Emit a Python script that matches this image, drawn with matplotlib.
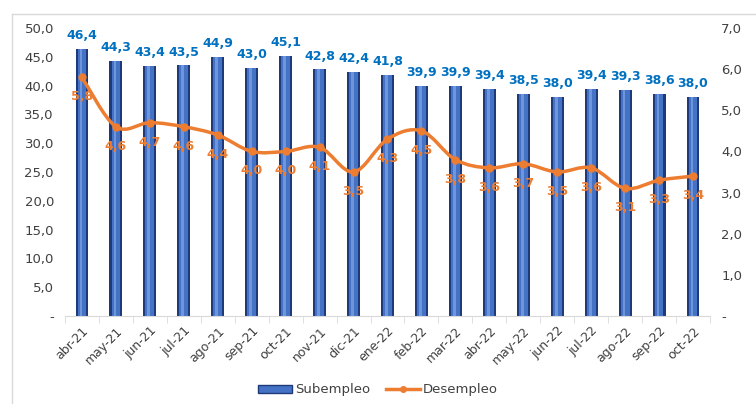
import numpy as np
import matplotlib.pyplot as plt
from matplotlib.path import Path
from matplotlib.patches import PathPatch
from matplotlib.lines import Line2D

plt.rcParams['font.family'] = ['DejaVu Sans']

meses = ['abr-21', 'may-21', 'jun-21', 'jul-21', 'ago-21', 'sep-21', 'oct-21', 'nov-21',
         'dic-21', 'ene-22', 'feb-22', 'mar-22', 'abr-22', 'may-22', 'jun-22', 'jul-22',
         'ago-22', 'sep-22', 'oct-22']
subempleo = [46.4, 44.3, 43.4, 43.5, 44.9, 43.0, 45.1, 42.8, 42.4, 41.8, 39.9, 39.9,
             39.4, 38.5, 38.0, 39.4, 39.3, 38.6, 38.0]
desempleo = [5.8, 4.6, 4.7, 4.6, 4.4, 4.0, 4.0, 4.1, 3.5, 4.3, 4.5, 3.8, 3.6, 3.7,
             3.5, 3.6, 3.1, 3.3, 3.4]

azul = '#4472C4'
naranja = '#ED7D31'
gris_txt = '#404040'


def fmt(v):
    return f'{v:.1f}'.replace('.', ',')


def smooth_path(xs, ys, t=1 / 6):
    # excel-style smoothed line as bezier segments (catmull-rom)
    pts = np.column_stack([xs, ys])
    verts = [pts[0]]
    codes = [Path.MOVETO]
    n = len(pts)
    for i in range(n - 1):
        p0 = pts[max(i - 1, 0)]
        p1 = pts[i]
        p2 = pts[i + 1]
        p3 = pts[min(i + 2, n - 1)]
        c1 = p1 + (p2 - p0) * t
        c2 = p2 - (p3 - p1) * t
        verts += [c1, c2, p2]
        codes += [Path.CURVE4] * 3
    return Path(verts, codes)


fig = plt.figure(figsize=(7.56, 4.04), dpi=100)
ax = fig.add_axes([65 / 756, 88 / 404, 645 / 756, 288 / 404])
x = np.arange(len(meses))

# bars with a little shading
ax.bar(x, subempleo, width=0.38, color='#1F3A7A', zorder=2)
ax.bar(x, subempleo, width=0.26, color=azul, zorder=2)
ax.bar(x - 0.03, subempleo, width=0.08, color='#6F95DC', zorder=2)
for xi, v in zip(x, subempleo):
    ax.text(xi, v + 1.2, fmt(v), ha='center', va='bottom', color='#0070C0',
            fontsize=9, fontweight='bold')

ax.set_ylim(0, 50)
ax.set_xlim(-0.5, len(meses) - 0.5)
ax.set_yticks(np.arange(0, 51, 5))
ax.set_yticklabels(['-'] + [fmt(v) for v in np.arange(5, 51, 5)])
ax.set_xticks(x)
ax.set_xticklabels(meses, rotation=45, ha='right', rotation_mode='anchor', fontsize=9,
                   color=gris_txt)
ax.set_xticks(np.arange(-0.5, len(meses), 1), minor=True)
ax.tick_params(axis='x', which='major', length=0, pad=6)
ax.tick_params(axis='x', which='minor', length=5, color='#D9D9D9')
ax.tick_params(axis='y', length=0, labelsize=9.5, pad=8, labelcolor=gris_txt)
for s in ['top', 'right', 'left']:
    ax.spines[s].set_visible(False)
ax.spines['bottom'].set_color('#D9D9D9')

ax2 = ax.twinx()
ax2.set_ylim(0, 7)
ax2.set_yticks(np.arange(0, 8, 1))
ax2.set_yticklabels(['-'] + [fmt(v) for v in np.arange(1, 8, 1)])
ax2.tick_params(axis='y', length=0, labelsize=9.5, pad=8, labelcolor=gris_txt)
for s in ['top', 'right', 'left', 'bottom']:
    ax2.spines[s].set_visible(False)

ax2.add_patch(PathPatch(smooth_path(x, desempleo), facecolor='none', edgecolor=naranja,
                        lw=2.5, zorder=3))
ax2.plot(x, desempleo, 'o', color=naranja, ms=5, zorder=4)
for xi, v in zip(x, desempleo):
    ax2.annotate(fmt(v), (xi, v), xytext=(0, -14), textcoords='offset points',
                 ha='center', va='center', color=naranja, fontsize=9, fontweight='bold')

handles = [
    plt.Rectangle((0, 0), 1, 1, facecolor=azul, edgecolor='#1F3A7A'),
    Line2D([], [], color=naranja, lw=2.5, marker='o', ms=4),
]
fig.legend(handles, ['Subempleo', 'Desempleo'], loc='center', bbox_to_anchor=(0.5, 14 / 404),
           ncol=2, frameon=False, fontsize=9.5, handlelength=2.6, handleheight=0.5,
           columnspacing=1.2, handletextpad=0.2, labelcolor=gris_txt)

# light frame of the chart area
fig.add_artist(Line2D([12 / 756, 1], [1 - 14 / 404] * 2, color='#D9D9D9', lw=1))
fig.add_artist(Line2D([12 / 756] * 2, [0, 1 - 14 / 404], color='#D9D9D9', lw=1))

fig.savefig('out.png', dpi=100)
